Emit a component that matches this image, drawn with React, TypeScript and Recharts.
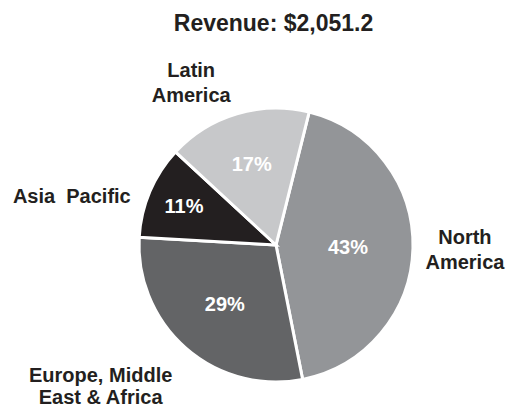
import React from 'react';
import { PieChart, Pie, Cell } from 'recharts';

const regions = ['North America', 'Europe, Middle East & Africa', 'Asia  Pacific', 'Latin America'];
const shares = [43, 29, 11, 17];
const nameLines = [['North', 'America'], ['Europe, Middle', 'East & Africa'], ['Asia  Pacific'], ['Latin', 'America']];
const sliceColors = ['#939598', '#636466', '#231f20', '#c7c8ca'];

// label placement tweaks (radius in px from centre, angle shift in degrees, line gap)
const pctRadius = [72, 78, 100, 85];
const nameRadius = [189, 225, 210, 183];
const nameTurn = [0, -10.2, 9.5, 11];
const nameGap = [25, 22, 24, 25];

const data = regions.map((name, i) => ({ name, value: shares[i] }));

const RADIAN = Math.PI / 180;
const FONT = '"Liberation Sans", Arial, Helvetica, sans-serif';

const renderLabel = (props: any) => {
  const { cx, cy, midAngle, index, value } = props;
  const a = midAngle * RADIAN;
  const px = cx + pctRadius[index] * Math.cos(-a);
  const py = cy + pctRadius[index] * Math.sin(-a);
  const b = (midAngle + nameTurn[index]) * RADIAN;
  const nx = cx + nameRadius[index] * Math.cos(-b);
  const ny = cy + nameRadius[index] * Math.sin(-b);
  const lines = nameLines[index];
  const lineH = nameGap[index];
  const top = ny - ((lines.length - 1) * lineH) / 2;
  return (
    <g key={`lbl-${index}`}>
      <text x={px} y={py} fill="#fff" fontSize={20} fontWeight="bold" fontFamily={FONT}
        textAnchor="middle" dominantBaseline="central">
        {value}%
      </text>
      <text x={nx} y={top} fill="#231f20" fontSize={20} fontWeight="bold" fontFamily={FONT}
        textAnchor="middle" dominantBaseline="central" style={{ whiteSpace: 'pre' }}>
        {lines.map((l, i) => (
          <tspan key={i} x={nx} dy={i === 0 ? 0 : lineH}>{l}</tspan>
        ))}
      </text>
    </g>
  );
};

export default function App() {
  return (
    <div style={{ position: 'absolute', left: 0, top: 0, width: 509, height: 409, background: '#fff' }}>
      <div style={{
        position: 'absolute', left: 38, top: 12, width: 471, textAlign: 'center',
        fontFamily: FONT, fontWeight: 'bold', fontSize: 23, lineHeight: '23px', color: '#231f20',
      }}>
        Revenue: $2,051.2
      </div>
      <PieChart width={509} height={409} margin={{ top: 0, right: 0, bottom: 0, left: 0 }}>
        <Pie
          data={data}
          dataKey="value"
          nameKey="name"
          cx={276}
          cy={245}
          outerRadius={137}
          startAngle={76}
          endAngle={-284}
          stroke="#fff"
          strokeWidth={3}
          label={renderLabel}
          labelLine={false}
          isAnimationActive={false}
        >
          {data.map((d, i) => (
            <Cell key={d.name} fill={sliceColors[i]} />
          ))}
        </Pie>
      </PieChart>
    </div>
  );
}
